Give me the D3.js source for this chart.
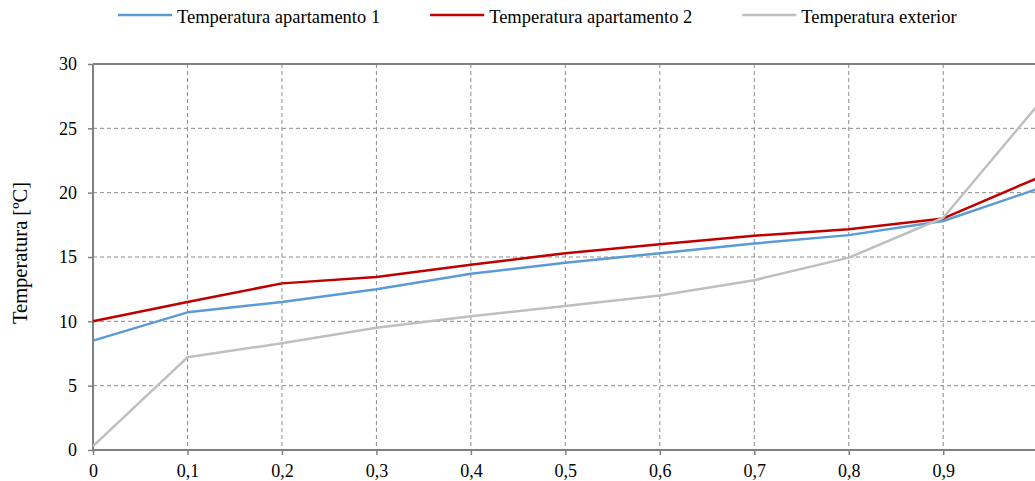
<!DOCTYPE html>
<html>
<head>
<meta charset="utf-8">
<script src="https://cdn.jsdelivr.net/npm/d3@7"></script>
<style>
  html, body { margin: 0; padding: 0; background: #fff; }
  svg { display: block; }
</style>
</head>
<body>
<div id="chart"></div>
<script>
// Chart values
const xValues = [0, 0.1, 0.2, 0.3, 0.4, 0.5, 0.6, 0.7, 0.8, 0.9, 1.0];
const apto1 = [8.5, 10.7, 11.5, 12.5, 13.7, 14.55, 15.3, 16.05, 16.7, 17.8, 20.3];
const apto2 = [10.0, 11.5, 12.95, 13.45, 14.4, 15.3, 16.0, 16.65, 17.15, 18.0, 21.15];
const exterior = [0.3, 7.2, 8.3, 9.5, 10.4, 11.2, 12.0, 13.2, 14.95, 18.05, 26.8];

const seriesNames = ['Temperatura apartamento 1', 'Temperatura apartamento 2', 'Temperatura exterior'];
const seriesColors = ['#5B9BD5', '#C00000', '#BFBFBF'];
const xTicks = [0, 0.1, 0.2, 0.3, 0.4, 0.5, 0.6, 0.7, 0.8, 0.9];
const yTicks = [0, 5, 10, 15, 20, 25, 30];
const yLabel = 'Temperatura [ºC]';

const FONT = '"Liberation Serif", "Times New Roman", serif';
const width = 1035;
const height = 481;
const margin = { top: 64, left: 93, bottom: 31 };

const svg = d3.select('#chart')
  .append('svg')
  .attr('width', width)
  .attr('height', height)
  .attr('font-family', FONT);

const x = d3.scaleLinear().domain([0, 1]).range([margin.left, 1037.7]);
const y = d3.scaleLinear().domain([0, 30]).range([height - margin.bottom, margin.top]);

const gridColor = '#8c8c8c';

// Gridlines (dashed)
svg.append('g')
  .selectAll('line')
  .data(xTicks.filter(d => d > 0))
  .enter()
  .append('line')
  .attr('x1', d => x(d)).attr('x2', d => x(d))
  .attr('y1', y(30)).attr('y2', y(0))
  .attr('stroke', gridColor)
  .attr('stroke-width', 1)
  .attr('stroke-dasharray', '4,3');

svg.append('g')
  .selectAll('line')
  .data(yTicks.filter(d => d > 0 && d < 30))
  .enter()
  .append('line')
  .attr('x1', x(0)).attr('x2', width)
  .attr('y1', d => y(d)).attr('y2', d => y(d))
  .attr('stroke', gridColor)
  .attr('stroke-width', 1)
  .attr('stroke-dasharray', '4,3');

// Axes
const xAxis = svg.append('g')
  .attr('transform', `translate(0,${y(0)})`)
  .call(d3.axisBottom(x).tickValues(xTicks).tickSize(5).tickPadding(9)
    .tickFormat(d => d3.format('.1~f')(d).replace('.', ',')));

const yAxis = svg.append('g')
  .attr('transform', `translate(${x(0)},0)`)
  .call(d3.axisLeft(y).tickValues(yTicks).tickSize(5).tickPadding(11));

[xAxis, yAxis].forEach(a => {
  a.attr('font-family', FONT).attr('font-size', 18);
  a.select('.domain').remove();
  a.selectAll('.tick line').attr('stroke', '#808080').attr('stroke-width', 1.5);
  a.selectAll('.tick text').attr('fill', '#000');
});

// Axis lines and top border
svg.append('line')
  .attr('x1', x(0)).attr('x2', width)
  .attr('y1', y(0)).attr('y2', y(0))
  .attr('stroke', '#808080').attr('stroke-width', 2);
svg.append('line')
  .attr('x1', x(0)).attr('x2', width)
  .attr('y1', y(30)).attr('y2', y(30))
  .attr('stroke', '#808080').attr('stroke-width', 2);
svg.append('line')
  .attr('x1', x(0)).attr('x2', x(0))
  .attr('y1', y(30)).attr('y2', y(0))
  .attr('stroke', '#808080').attr('stroke-width', 2);

// Y axis title
svg.append('text')
  .attr('transform', 'translate(26.5,253) rotate(-90)')
  .attr('text-anchor', 'middle')
  .attr('font-size', 20.5)
  .attr('fill', '#000')
  .text(yLabel);

// Series lines
const line = d3.line()
  .x((d, i) => x(xValues[i]))
  .y(d => y(d));

[apto1, apto2, exterior].forEach((vals, i) => {
  svg.append('path')
    .datum(vals)
    .attr('d', line)
    .attr('fill', 'none')
    .attr('stroke', seriesColors[i])
    .attr('stroke-width', 2.5)
    .attr('stroke-linejoin', 'round');
});

// Legend, laid out left to right
const legend = svg.append('g');
let lx = 118;
seriesNames.forEach((name, i) => {
  legend.append('line')
    .attr('x1', lx).attr('x2', lx + 54)
    .attr('y1', 15).attr('y2', 15)
    .attr('stroke', seriesColors[i])
    .attr('stroke-width', 2.5);
  const t = legend.append('text')
    .attr('x', lx + 59)
    .attr('y', 23)
    .attr('font-size', 18.5)
    .attr('fill', '#000')
    .text(name);
  lx += 59 + t.node().getComputedTextLength() + 50;
});
</script>
</body>
</html>
